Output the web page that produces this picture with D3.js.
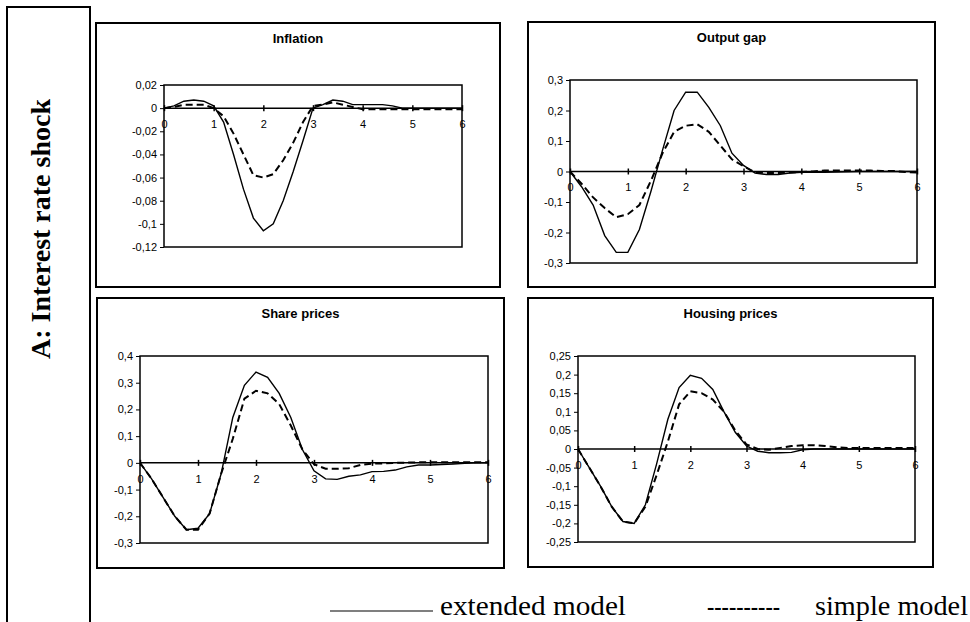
<!DOCTYPE html>
<html>
<head>
<meta charset="utf-8">
<script src="https://cdn.jsdelivr.net/npm/d3@7"></script>
<style>
  body { margin: 0; background: #fff; }
  svg { display: block; }
  .tick text { font-family: Arial, "Liberation Sans", sans-serif; font-size: 11px; fill: #000; }
  .tick line { stroke: #000; }
</style>
</head>
<body>
<svg id="chart" width="970" height="622"></svg>
<script>
// time after shock (years), one point every 0.2
const periods = [0, 0.2, 0.4, 0.6, 0.8, 1.0, 1.2, 1.4, 1.6, 1.8, 2.0, 2.2, 2.4, 2.6, 2.8, 3.0,
  3.2, 3.4, 3.6, 3.8, 4.0, 4.2, 4.4, 4.6, 4.8, 5.0, 5.2, 5.4, 5.6, 5.8, 6.0]

const inflationExtended = [0, 0.002, 0.006, 0.007, 0.006, 0.002, -0.012, -0.04, -0.07, -0.095, -0.106,
  -0.1, -0.08, -0.055, -0.028, 0.0, 0.003, 0.007, 0.006, 0.003, 0.003, 0.003, 0.003, 0.002, 0.0,
  0, 0, 0, 0, 0, 0]
const inflationSimple = [0, 0.001, 0.003, 0.003, 0.003, 0.0, -0.007, -0.022, -0.04, -0.058, -0.06,
  -0.057, -0.045, -0.03, -0.012, 0.002, 0.003, 0.005, 0.003, 0.001, -0.001, -0.001, -0.001, -0.001,
  -0.001, -0.001, -0.001, -0.001, -0.001, -0.001, -0.001]

const outputGapExtended = [0, -0.05, -0.11, -0.21, -0.265, -0.265, -0.19, -0.065, 0.07, 0.2, 0.26,
  0.26, 0.21, 0.15, 0.06, 0.02, -0.005, -0.01, -0.01, -0.005, -0.003, -0.003, -0.003, -0.002, -0.001,
  0, 0, 0, 0, 0, 0]
const outputGapSimple = [0, -0.04, -0.085, -0.12, -0.15, -0.14, -0.11, -0.03, 0.06, 0.13, 0.15,
  0.155, 0.13, 0.085, 0.04, 0.017, -0.003, -0.005, -0.005, -0.003, -0.002, 0.0, 0.003, 0.003, 0.003,
  0.003, 0.003, 0.002, 0.002, -0.002, -0.003]

const shareExtended = [0, -0.06, -0.13, -0.2, -0.25, -0.245, -0.19, -0.04, 0.17, 0.29, 0.34,
  0.32, 0.26, 0.17, 0.05, -0.03, -0.06, -0.062, -0.05, -0.045, -0.033, -0.032, -0.027, -0.015, -0.008,
  -0.008, -0.006, -0.004, -0.002, 0, 0]
const shareSimple = [0, -0.06, -0.13, -0.2, -0.25, -0.25, -0.19, -0.04, 0.09, 0.24, 0.27,
  0.26, 0.22, 0.14, 0.05, -0.005, -0.022, -0.022, -0.02, -0.008, -0.003, -0.002, 0.0, 0.001, 0.002,
  0.002, 0.002, 0.002, 0.002, 0.002, 0.002]

const housingExtended = [0, -0.05, -0.1, -0.155, -0.195, -0.2, -0.15, -0.04, 0.08, 0.165, 0.198,
  0.19, 0.16, 0.1, 0.045, 0.008, -0.006, -0.01, -0.01, -0.009, -0.002, 0, 0, 0, 0,
  0, 0, 0, 0, 0, 0]
const housingSimple = [0, -0.05, -0.1, -0.155, -0.195, -0.2, -0.155, -0.07, 0.02, 0.12, 0.155,
  0.15, 0.133, 0.1, 0.05, 0.012, 0.0, -0.002, 0.003, 0.008, 0.01, 0.01, 0.008, 0.005, 0.003,
  0.003, 0.003, 0.003, 0.003, 0.003, 0.003]

const xTicks = [0, 1, 2, 3, 4, 5, 6]
const inflationTicks = [0.02, 0, -0.02, -0.04, -0.06, -0.08, -0.1, -0.12]
const outputGapTicks = [0.3, 0.2, 0.1, 0, -0.1, -0.2, -0.3]
const shareTicks = [0.4, 0.3, 0.2, 0.1, 0, -0.1, -0.2, -0.3]
const housingTicks = [0.25, 0.2, 0.15, 0.1, 0.05, 0, -0.05, -0.1, -0.15, -0.2, -0.25]

const panelTitles = ["Inflation", "Output gap", "Share prices", "Housing prices"]
const legendLabels = ["extended model", "simple model"]
const sideLabel = "A: Interest rate shock"

// layout of each panel: outer box and plot area (pixels)
const panels = [
  {title: panelTitles[0], box: [96, 23, 500, 287], plot: [164, 85, 462, 247], titleY: 43,
    ticks: inflationTicks, extended: inflationExtended, simple: inflationSimple},
  {title: panelTitles[1], box: [528, 22, 935, 287], plot: [570, 80, 917, 263], titleY: 42,
    ticks: outputGapTicks, extended: outputGapExtended, simple: outputGapSimple},
  {title: panelTitles[2], box: [97, 298, 504, 568], plot: [140, 356, 488, 543], titleY: 318,
    ticks: shareTicks, extended: shareExtended, simple: shareSimple},
  {title: panelTitles[3], box: [528, 298, 933, 567], plot: [578, 356, 915, 542], titleY: 318,
    ticks: housingTicks, extended: housingExtended, simple: housingSimple}
]

const svg = d3.select("#chart")
svg.append("rect").attr("width", 970).attr("height", 622).attr("fill", "#fff")

// decimal comma like the original
function commaFormat(v){
  if(Math.abs(v) < 1e-9) return "0"
  return String(+v.toFixed(3)).replace(".", ",")
}

// left frame with rotated label (open at the bottom)
svg.append("path")
  .attr("d", "M7,622 V7 H90 V622")
  .attr("fill", "none")
  .attr("stroke", "#000")
  .attr("stroke-width", 2)

svg.append("text")
  .attr("transform", "translate(50,229) rotate(-90)")
  .attr("text-anchor", "middle")
  .attr("font-family", "'Liberation Serif', 'Times New Roman', serif")
  .attr("font-weight", "bold")
  .attr("font-size", 28)
  .text(sideLabel)

function drawPanel(p){
  const g = svg.append("g")
  const [bx0, by0, bx1, by1] = p.box
  const [px0, py0, px1, py1] = p.plot

  g.append("rect")
    .attr("x", bx0).attr("y", by0)
    .attr("width", bx1 - bx0).attr("height", by1 - by0)
    .attr("fill", "#fff").attr("stroke", "#000").attr("stroke-width", 2)

  g.append("text")
    .attr("x", (bx0 + bx1) / 2).attr("y", p.titleY)
    .attr("text-anchor", "middle")
    .attr("font-family", "Arial, 'Liberation Sans', sans-serif")
    .attr("font-weight", "bold")
    .attr("font-size", 13)
    .text(p.title)

  const x = d3.scaleLinear().domain([0, 6]).range([px0, px1])
  const y = d3.scaleLinear().domain(d3.extent(p.ticks)).range([py1, py0])

  // plot area frame
  g.append("rect")
    .attr("x", px0).attr("y", py0)
    .attr("width", px1 - px0).attr("height", py1 - py0)
    .attr("fill", "none").attr("stroke", "#000").attr("stroke-width", 1.5)

  // y axis (ticks outside, left)
  const yAxis = g.append("g")
    .attr("transform", `translate(${px0},0)`)
    .call(d3.axisLeft(y).tickValues(p.ticks).tickSize(4).tickSizeOuter(0).tickPadding(3).tickFormat(commaFormat))
  yAxis.select(".domain").remove()

  // zero line
  g.append("line")
    .attr("x1", px0).attr("x2", px1)
    .attr("y1", y(0)).attr("y2", y(0))
    .attr("stroke", "#000").attr("stroke-width", 1.5)

  // x axis: ticks cross the zero line, labels just below it
  const xAxis = g.append("g")
    .attr("transform", `translate(0,${y(0) - 3})`)
    .call(d3.axisBottom(x).tickValues(xTicks).tickSize(6).tickPadding(9).tickFormat(d3.format("d")))
  xAxis.select(".domain").remove()
  xAxis.selectAll(".tick line").attr("stroke-width", 1.5)

  const line = d3.line()
    .x((d, i) => x(periods[i]))
    .y(d => y(d))

  g.append("path")
    .datum(p.simple)
    .attr("d", line)
    .attr("fill", "none")
    .attr("stroke", "#000")
    .attr("stroke-width", 2)
    .attr("stroke-dasharray", "7,4")

  g.append("path")
    .datum(p.extended)
    .attr("d", line)
    .attr("fill", "none")
    .attr("stroke", "#000")
    .attr("stroke-width", 1.4)
}

for(const p of panels){
  drawPanel(p)
}

// legend
const legend = svg.append("g")
  .attr("font-family", "'Liberation Serif', 'Times New Roman', serif")
  .attr("font-size", 28)

legend.append("line")
  .attr("x1", 330).attr("x2", 433)
  .attr("y1", 611).attr("y2", 611)
  .attr("stroke", "#000").attr("stroke-width", 1.2)
legend.append("text").attr("x", 440).attr("y", 615)
  .attr("textLength", 186).attr("lengthAdjust", "spacingAndGlyphs")
  .text(legendLabels[0])
legend.append("text").attr("x", 707).attr("y", 615)
  .attr("textLength", 73).attr("lengthAdjust", "spacingAndGlyphs")
  .text("----------")
legend.append("text").attr("x", 815).attr("y", 615)
  .attr("textLength", 153).attr("lengthAdjust", "spacingAndGlyphs")
  .text(legendLabels[1])
</script>
</body>
</html>
